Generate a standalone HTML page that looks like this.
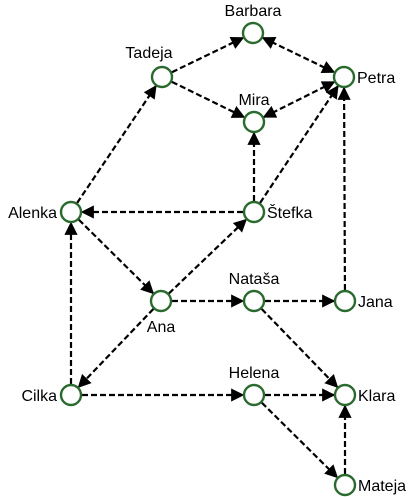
<!DOCTYPE html>
<html><head><meta charset="utf-8"><style>
html,body{margin:0;padding:0;background:#fff;}
svg{display:block;font-family:"Liberation Sans",sans-serif;}
</style></head><body>
<svg id="g" width="414" height="497" viewBox="0 0 414 497">
<defs><marker id="ah" viewBox="0 0 10 10" refX="9" refY="5" markerWidth="6" markerHeight="6" orient="auto-start-reverse"><path d="M0,0L10,5L0,10z" fill="#000"/></marker></defs>
<g id="edges"></g><g id="nodes"></g>
</svg>
<script>
const nodeNames=["Barbara","Tadeja","Petra","Mira","Alenka","Štefka","Ana","Nataša","Jana","Cilka","Helena","Klara","Mateja"];
const nodeX=[253,162,344,254,71,254,161,254,345,71,254,345,345];
const nodeY=[33,77,77,122,212,212,301,301,301,395,395,395,485];
const labelPos=["top","topleft","right","top","left","right","bottom","top","right","left","top","right","right"];
const edgeFrom=["Tadeja","Barbara","Tadeja","Mira","Alenka","Štefka","Štefka","Štefka","Alenka","Ana","Ana","Nataša","Jana","Nataša","Ana","Cilka","Cilka","Helena","Helena","Mateja"];
const edgeTo=["Barbara","Petra","Mira","Petra","Tadeja","Alenka","Mira","Petra","Ana","Štefka","Nataša","Jana","Petra","Klara","Cilka","Alenka","Helena","Klara","Mateja","Klara"];
const edgeBoth=[0,1,0,1,0,0,0,0,0,0,0,0,0,0,0,0,0,0,0,0];
const NS="http://www.w3.org/2000/svg",R=10;
const E=document.getElementById('edges'),N=document.getElementById('nodes');
edgeFrom.forEach((f,i)=>{
 const a=nodeNames.indexOf(f),b=nodeNames.indexOf(edgeTo[i]);
 const dx=nodeX[b]-nodeX[a],dy=nodeY[b]-nodeY[a],d=Math.hypot(dx,dy),ux=dx/d,uy=dy/d;
 const l=document.createElementNS(NS,'line');
 l.setAttribute('x1',nodeX[a]+ux*(R+1));l.setAttribute('y1',nodeY[a]+uy*(R+1));
 l.setAttribute('x2',nodeX[b]-ux*(R+1));l.setAttribute('y2',nodeY[b]-uy*(R+1));
 l.setAttribute('stroke','#000');l.setAttribute('stroke-width','2.2');l.setAttribute('stroke-dasharray','6,3');
 l.setAttribute('marker-end','url(#ah)');
 if(edgeBoth[i])l.setAttribute('marker-start','url(#ah)');
 
 
 E.appendChild(l);
});
nodeNames.forEach((n,i)=>{
 const c=document.createElementNS(NS,'circle');
 c.setAttribute('cx',nodeX[i]);c.setAttribute('cy',nodeY[i]);c.setAttribute('r',R);
 c.setAttribute('fill','#fff');c.setAttribute('stroke','#2a6a2e');c.setAttribute('stroke-width','2.4');
 
 
 N.appendChild(c);
 const t=document.createElementNS(NS,'text');
 let x=nodeX[i],y=nodeY[i]+6,anc='middle';const p=labelPos[i];
 if(p==='top'){y=nodeY[i]-17;}
 else if(p==='bottom'){y=nodeY[i]+31;}
 else if(p==='right'){x=nodeX[i]+13;anc='start';}
 else if(p==='left'){x=nodeX[i]-14;anc='end';}
 else if(p==='topleft'){x=nodeX[i]-13;y=nodeY[i]-19;}
 t.setAttribute('x',x);t.setAttribute('y',y);t.setAttribute('text-anchor',anc);
 t.setAttribute('font-size','16');t.setAttribute('fill','#000');
 t.textContent=n;
 
 
 N.appendChild(t);
});
</script>
</body></html>
